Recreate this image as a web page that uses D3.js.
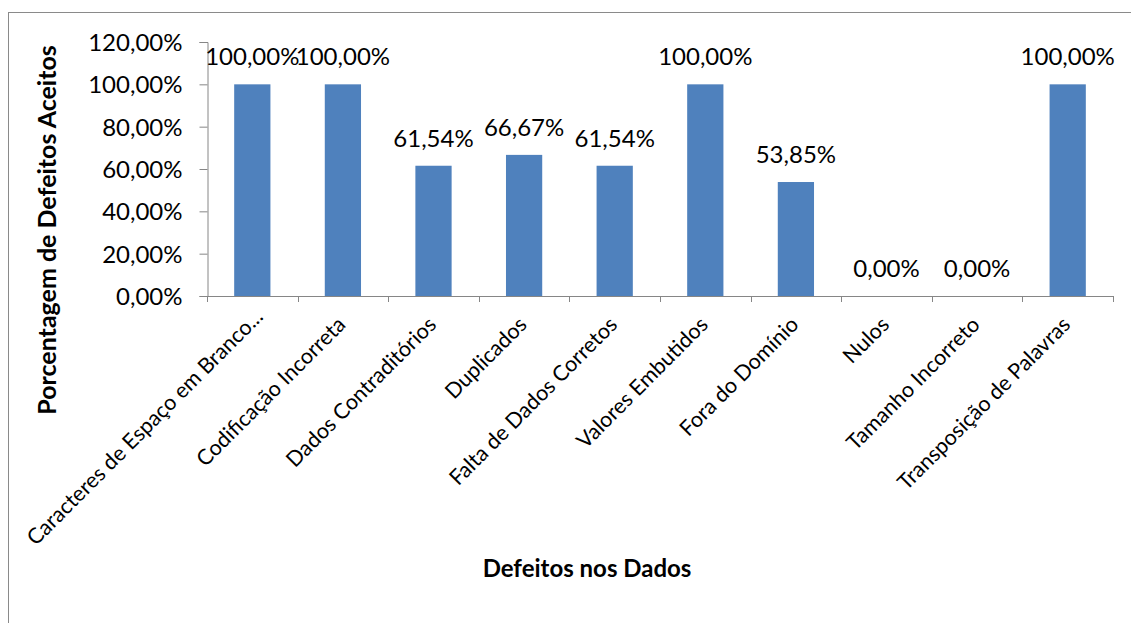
<!DOCTYPE html>
<html>
<head>
<meta charset="utf-8">
<script src="https://cdn.jsdelivr.net/npm/d3@7"></script>
<style>
  html, body { margin: 0; padding: 0; background: #fff; }
  svg { display: block; }
  text { font-family: Lato, "Open Sans", sans-serif; fill: #000; }
</style>
</head>
<body>
<svg id="chart" width="1131" height="623"></svg>
<script>
// Categories of data defects
const categories = [
  "Caracteres de Espaço em Branco...",
  "Codificação Incorreta",
  "Dados Contraditórios",
  "Duplicados",
  "Falta de Dados Corretos",
  "Valores Embutidos",
  "Fora do Domínio",
  "Nulos",
  "Tamanho Incorreto",
  "Transposição de Palavras"
];
// Percentage of accepted defects per category
const values = [1.0, 1.0, 0.6154, 0.6667, 0.6154, 1.0, 0.5385, 0.0, 0.0, 1.0];
// Y axis tick values
const yTicks = [0, 0.2, 0.4, 0.6, 0.8, 1.0, 1.2];

const yTitle = "Porcentagem de Defeitos Aceitos";
const xTitle = "Defeitos nos Dados";

const fmt = v => (v * 100).toFixed(2).replace(".", ",") + "%";

const svg = d3.select("#chart");
const plot = { left: 207, right: 1113, top: 42, bottom: 296 };

// Outer chart frame
svg.append("rect")
  .attr("x", 8.5).attr("y", 12.5)
  .attr("width", 1140).attr("height", 640)
  .attr("fill", "none").attr("stroke", "#8a8a8a").attr("stroke-width", 1);

const x = d3.scaleBand().domain(categories).range([plot.left, plot.right])
  .paddingInner(0.6).paddingOuter(0.3);
const xTickScale = d3.scaleLinear().domain([0, categories.length]).range([plot.left, plot.right]);
const y = d3.scaleLinear().domain([0, 1.2]).range([plot.bottom, plot.top]);

// Y axis
const yAxis = svg.append("g").attr("transform", `translate(${plot.left + 0.5},0)`)
  .call(d3.axisLeft(y).tickValues(yTicks).tickFormat(fmt).tickSizeOuter(0).tickSize(8).tickPadding(17));
yAxis.select(".domain").attr("stroke", "#868686");
yAxis.selectAll(".tick line").attr("stroke", "#868686");
yAxis.selectAll(".tick text").attr("font-size", 24).attr("font-family", "Lato").attr("fill", "#000").attr("dy", "0.36em");

// Bars
svg.append("g").selectAll("rect").data(values).join("rect")
  .attr("x", (d, i) => x(categories[i]))
  .attr("width", x.bandwidth())
  .attr("y", d => y(d))
  .attr("height", d => y(0) - y(d))
  .attr("fill", "#4F81BD");

// X axis line and category separators
const xg = svg.append("g");
xg.append("line")
  .attr("x1", plot.left).attr("x2", plot.right)
  .attr("y1", y(0) + 0.5).attr("y2", y(0) + 0.5)
  .attr("stroke", "#868686");
xg.selectAll("line.tick").data(d3.range(categories.length + 1)).join("line")
  .attr("class", "tick")
  .attr("x1", d => Math.round(xTickScale(d)) + 0.5).attr("x2", d => Math.round(xTickScale(d)) + 0.5)
  .attr("y1", y(0)).attr("y2", y(0) + 6)
  .attr("stroke", "#868686");

// Rotated category labels
xg.selectAll("text").data(categories).join("text")
  .attr("transform", (d, i) => `translate(${x(d) + x.bandwidth() / 2 + (i === 0 ? 12 : 4)},${i === 0 ? 318 : 326}) rotate(-45)`)
  .attr("text-anchor", "end")
  .attr("font-size", 21.5)
  .text(d => d);

// Value labels above bars
svg.append("g").selectAll("text").data(values).join("text")
  .attr("x", (d, i) => x(categories[i]) + x.bandwidth() / 2)
  .attr("y", d => y(d) - 19)
  .attr("text-anchor", "middle")
  .attr("font-size", 24)
  .text(d => fmt(d));

// Axis titles
svg.append("text")
  .attr("transform", "translate(56,230) rotate(-90)")
  .attr("text-anchor", "middle")
  .attr("font-size", 25).attr("font-weight", "bold")
  .text(yTitle);

svg.append("text")
  .attr("x", 587).attr("y", 577)
  .attr("text-anchor", "middle")
  .attr("font-size", 24).attr("font-weight", "bold")
  .text(xTitle);
</script>
</body>
</html>
